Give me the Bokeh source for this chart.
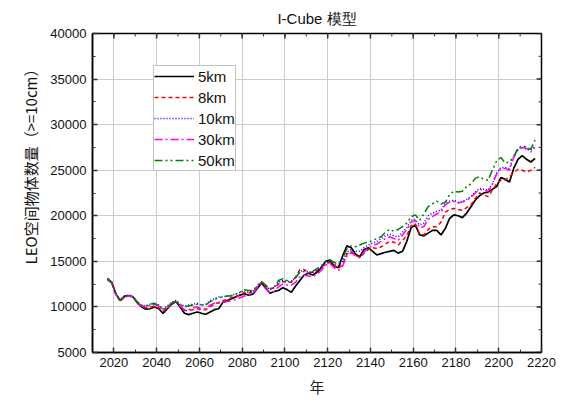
from bokeh.plotting import figure
from bokeh.models import (FixedTicker, LinearAxis, Legend, LegendItem, Range1d)
from bokeh.embed import file_html
from bokeh.resources import INLINE

years = list(range(2017, 2219, 2))

s5km = [13100, 12700, 11400, 10700, 11200, 11250, 11100, 10500, 10000, 9750,
        9800, 10000, 9800, 9300, 9800, 10300, 10600, 10000, 9300, 9150,
        9300, 9450, 9300, 9200, 9450, 9700, 9800, 10500, 10700, 10900,
        11100, 11300, 11450, 11300, 11400, 12000, 12600, 12100, 11500, 11700,
        11800, 12100, 11900, 11600, 12300, 12900, 13500, 13700, 13500, 13800,
        14300, 15000, 15100, 14500, 14300, 15600, 16700, 16500, 15800, 15500,
        16300, 16500, 16100, 15700, 15850, 16000, 16100, 16200, 15900, 16100,
        17200, 18700, 19000, 17900, 17800, 18100, 18400, 18400, 17900, 18600,
        19700, 20100, 20000, 19800, 20300, 21000, 21700, 22200, 22500, 22600,
        22900, 23200, 24200, 24000, 23700, 25200, 26200, 26600, 26200, 25900,
        26300]

s8km = [13000, 12600, 11300, 10600, 11100, 11200, 11100, 10400, 10000, 9900,
        10000, 10100, 9900, 9500, 9900, 10300, 10600, 10100, 9600, 9600,
        9700, 9800, 9700, 9700, 10000, 10300, 10500, 10700, 10800, 11000,
        11100, 11300, 11600, 11500, 11700, 12200, 12700, 12300, 12000, 12100,
        12500, 12800, 12700, 12700, 13300, 14100, 14100, 13800, 13800, 14000,
        14300, 14700, 14900, 14600, 14200, 14700, 15800, 16100, 15700, 15400,
        15900, 16300, 16500, 16400, 16600, 16900, 17200, 17100, 16800, 17300,
        17800, 18900, 19100, 18000, 17900, 18500, 18800, 18800, 19300, 20400,
        20700, 20800, 20700, 20600, 20900, 21200, 21900, 22500, 22300, 22100,
        22800, 23500, 23900, 23900, 24300, 24700, 25100, 25000, 24800, 25000,
        25300]

s10km = [13100, 12700, 11400, 10800, 11200, 11300, 11100, 10500, 10200, 10100,
         10300, 10400, 10200, 9800, 10100, 10500, 10700, 10300, 10100, 10200,
         10300, 10400, 10200, 10300, 10700, 10900, 11100, 11100, 11200, 11300,
         11400, 11600, 11800, 11600, 11700, 12200, 12700, 12300, 11900, 12100,
         12700, 12900, 12800, 12800, 13200, 13900, 14000, 13800, 13800, 14000,
         14400, 14900, 15000, 14800, 14500, 15000, 16000, 16300, 16100, 16100,
         16500, 16800, 17000, 17200, 17500, 17800, 18000, 17800, 17700, 18200,
         18700, 19500, 19600, 19000, 19200, 20000, 20300, 20500, 20600, 21400,
         21600, 21700, 21500, 21600, 21800, 22100, 22600, 23000, 22900, 22800,
         23500, 24700, 25300, 25300, 25200, 26500, 27300, 27500, 27300, 27200,
         27700]

s30km = [13000, 12600, 11300, 10700, 11100, 11200, 11100, 10500, 10100, 10000,
         10200, 10300, 10100, 9700, 10000, 10400, 10600, 10100, 9700, 9700,
         9900, 10000, 9800, 9800, 10200, 10400, 10400, 10500, 10600, 10700,
         10800, 11000, 11200, 11300, 11500, 12100, 12500, 12000, 11600, 11700,
         12200, 12500, 12400, 12400, 12700, 13300, 13500, 13400, 13300, 13600,
         14000, 14600, 14800, 14300, 14000, 14500, 15600, 16000, 15600, 15400,
         16000, 16500, 16700, 16900, 17200, 17500, 17700, 17500, 17300, 17900,
         18500, 19300, 19500, 18700, 18800, 19600, 19900, 20200, 20400, 21200,
         21500, 21600, 21400, 21500, 21700, 22000, 22500, 22900, 22800, 22700,
         23400, 24600, 25200, 25200, 25000, 26400, 27200, 27500, 27400, 27000,
         27500]

s50km = [13100, 12700, 11400, 10700, 11100, 11300, 11100, 10400, 10100, 10100,
         10300, 10400, 10100, 9700, 10000, 10400, 10700, 10300, 10000, 10100,
         10200, 10300, 10200, 10200, 10600, 10800, 11000, 11100, 11200, 11200,
         11400, 11600, 11900, 11800, 11800, 12300, 12800, 12400, 12000, 12200,
         12900, 13100, 12900, 12800, 13200, 13800, 13900, 13700, 13900, 14200,
         14500, 15000, 15200, 14900, 14700, 15300, 16400, 16700, 16600, 16800,
         17000, 17100, 17300, 17500, 17700, 18200, 18500, 18300, 18500, 18800,
         19200, 19900, 20100, 19500, 20200, 21000, 21300, 21600, 21300, 21500,
         22300, 22700, 22600, 22700, 23200, 23500, 24100, 24300, 24000, 23900,
         25000, 26000, 26400, 25800, 25900, 26500, 27400, 27700, 27500, 27300,
         28300]

labels = ["5km", "8km", "10km", "30km", "50km"]
x_ticks = list(range(2020, 2221, 20))
x_minor = list(range(2010, 2221, 10))
y_ticks = list(range(5000, 40001, 5000))
y_minor = list(range(5000, 40001, 2500))
title_text = "I-Cube 模型"
x_label = "年"
y_label = "\u3000\u3000\u3000\u3000LEO空间物体数量（>=10cm）"

FONT = "Liberation Sans"
CJK = "Noto Sans CJK SC"

p = figure(width=558, height=400, x_range=Range1d(2010, 2220),
           y_range=Range1d(5000, 40000), output_backend="svg",
           toolbar_location=None, min_border_left=92, min_border_right=17,
           min_border_top=33, min_border_bottom=48)
p.xaxis.visible = False
p.yaxis.visible = False
p.outline_line_color = "black"
p.outline_line_width = 1.5

p.title.text = title_text
p.title.align = "center"
p.title.text_font = FONT
p.title.text_font_size = "15px"
p.title.text_font_style = "normal"
p.title.text_color = "#111111"
p.title.offset = 0
p.title.standoff = 14

def mk_axis():
    ax = LinearAxis()
    ax.axis_line_color = "black"
    ax.axis_line_width = 1.5
    ax.major_tick_in = 5
    ax.major_tick_out = 0
    ax.minor_tick_in = 3
    ax.minor_tick_out = 0
    ax.major_tick_line_color = "#333333"
    ax.minor_tick_line_color = "#333333"
    ax.major_tick_line_width = 1.5
    ax.minor_tick_line_width = 1
    ax.major_label_text_font = FONT
    ax.major_label_text_font_size = "13px"
    ax.major_label_text_color = "#111111"
    return ax

xb = mk_axis()
xb.ticker = FixedTicker(ticks=x_ticks, minor_ticks=x_minor)
xb.major_label_standoff = 5
xb.axis_label = x_label
xb.axis_label_text_font = CJK
xb.axis_label_text_font_size = "15px"
xb.axis_label_text_font_style = "normal"
xb.axis_label_text_color = "#222222"
xb.axis_label_standoff = 6
p.add_layout(xb, "below")

yl = mk_axis()
yl.ticker = FixedTicker(ticks=y_ticks, minor_ticks=y_minor)
yl.major_label_standoff = 6
yl.axis_label = y_label
yl.axis_label_text_font = CJK
yl.axis_label_text_font_size = "15px"
yl.axis_label_text_font_style = "normal"
yl.axis_label_text_color = "#111111"
yl.axis_label_standoff = 6
p.add_layout(yl, "left")

p.xgrid.ticker = FixedTicker(ticks=x_ticks)
p.ygrid.ticker = FixedTicker(ticks=y_ticks)
p.xgrid.grid_line_color = "#cccccc"
p.ygrid.grid_line_color = "#cccccc"
p.xgrid.grid_line_width = 1
p.ygrid.grid_line_width = 1

# tick marks on the top and right edges, placed at the tick values
p.segment(x0=x_ticks, y0=[40000] * len(x_ticks), x1=x_ticks,
          y1=[40000 - 550] * len(x_ticks), line_color="#333333", line_width=1.5)
p.segment(x0=x_minor, y0=[40000] * len(x_minor), x1=x_minor,
          y1=[40000 - 330] * len(x_minor), line_color="#333333", line_width=1)
p.segment(x0=[2220] * len(y_ticks), y0=y_ticks, x1=[2220 - 2.3] * len(y_ticks),
          y1=y_ticks, line_color="#333333", line_width=1.5)
p.segment(x0=[2220] * len(y_minor), y0=y_minor, x1=[2220 - 1.4] * len(y_minor),
          y1=y_minor, line_color="#333333", line_width=1)

styles = [
    dict(line_color="black", line_width=1.7, line_dash="solid"),
    dict(line_color="#ff0000", line_width=1.5, line_dash="4 3"),
    dict(line_color="#0000ff", line_width=1.5, line_dash="1 2"),
    dict(line_color="#ff00ff", line_width=1.5, line_dash="8 3 2 3"),
    dict(line_color="#008000", line_width=1.5, line_dash="8 3 2 3 2 3"),
]
series = [s5km, s8km, s10km, s30km, s50km]
renderers = []
for s, st in zip(series, styles):
    renderers.append(p.line(years, s, **st))

legend = Legend(items=[LegendItem(label=l, renderers=[r]) for l, r in zip(labels, renderers)],
                location=(61, 181))
legend.label_text_font = FONT
legend.label_text_font_size = "15px"
legend.label_text_color = "#111111"
legend.glyph_width = 40
legend.glyph_height = 20
legend.label_height = 20
legend.label_standoff = 4
legend.spacing = 1
legend.padding = 0
legend.margin = 0
legend.border_line_color = "#888888"
legend.border_line_width = 1
legend.background_fill_alpha = 1
p.add_layout(legend, "center")

open("out.html", "w").write(file_html(p, INLINE))
